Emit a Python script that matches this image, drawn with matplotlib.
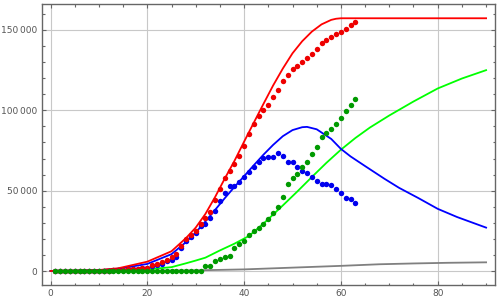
import numpy as np
import matplotlib
matplotlib.use("Agg")
import matplotlib.pyplot as plt
from matplotlib.ticker import MultipleLocator

# ---- observed data (one dot per day) ----
days = list(range(1, 64))

confirmed = [20, 20, 20, 20, 30, 50, 50, 80, 130, 160,
             200, 260, 480, 670, 800, 1000, 1200, 1500, 1900, 2100,
             3500, 4400, 5600, 7000, 8500, 10500, 15500, 19700, 22300, 24900,
             29100, 32800, 36800, 43900, 50900, 57700, 62500, 66600, 71800, 78000,
             85100, 91300, 96300, 100000, 103300, 108000, 112900, 118300, 122000, 125600,
             127800, 129900, 132400, 135300, 138000, 141700, 143600, 145900, 147300, 148600,
             150500, 153000, 154800]

active = [0, 0, 0, 0, 10, 30, 30, 60, 110, 140,
          180, 240, 460, 650, 780, 980, 1180, 1480, 1880, 2080,
          3000, 3800, 4600, 6000, 7000, 9000, 14500, 18500, 21000, 23800,
          28000, 29500, 33000, 37600, 43800, 48800, 52700, 52700, 55100, 58200,
          61500, 64900, 68100, 70300, 70800, 71200, 73300, 71800, 68100, 68100,
          64600, 62500, 60800, 58300, 56200, 54000, 54000, 53400, 50900, 48400,
          45700, 44600, 42100]

recovered = [20, 20, 20, 20, 20, 20, 20, 20, 20, 20,
             20, 20, 20, 20, 20, 20, 20, 20, 20, 20,
             50, 50, 50, 50, 100, 100, 100, 200, 200, 300,
             300, 3300, 3300, 6000, 7500, 8900, 9500, 14100, 16800, 18700,
             22400, 24900, 26600, 29300, 32200, 35900, 40000, 46300, 54000, 57700,
             60400, 64600, 68100, 72700, 77000, 83200, 85700, 88200, 91300, 95100,
             99400, 103200, 106900]

# ---- model curves ----
red_x = [0, 5, 10, 14, 20, 25, 28, 30, 32, 34, 36, 38, 40, 42, 44, 46, 48,
         50, 52, 54, 56, 58, 59, 60, 90]
red_y = [0, 150, 600, 1700, 5800, 12300, 20500, 27000, 35500, 46000, 57500, 68500,
         80500, 92300, 104000, 115500, 126000, 135500, 143000, 149000, 153500,
         156300, 157000, 157300, 157300]

blue_x = [0, 5, 10, 14, 20, 25, 28, 30, 32, 34, 36, 38, 40, 42, 44, 46, 48, 50,
          52, 53, 55, 58, 60, 62, 65, 69, 72, 76, 80, 84, 90]
blue_y = [0, 120, 500, 1400, 4400, 10500, 18000, 24000, 30800, 38000, 45300, 52300,
          59000, 65800, 72400, 78500, 83900, 87700, 89500, 89700, 88200, 82200, 76000,
          71300, 65300, 57400, 51800, 45400, 38700, 33600, 27000]

green_x = [0, 10, 20, 25, 28, 30, 32, 35, 38, 41, 44, 48, 51, 54, 57, 60, 63,
           66, 70, 75, 80, 85, 90]
green_y = [0, 200, 1000, 2400, 4800, 6500, 8300, 12800, 17000, 21800, 29500, 40800,
           49500, 58500, 67300, 75500, 82800, 89300, 96800, 105500, 113600, 119800,
           125000]

gray_x = [0, 20, 30, 40, 50, 60, 68, 75, 82, 90]
gray_y = [0, 100, 400, 1000, 2100, 3200, 4200, 4700, 5100, 5400]

x_ticks = [0, 20, 40, 60, 80]
y_ticks = [0, 50000, 100000, 150000]
y_tick_labels = ["0", "50\u2009000", "100\u2009000", "150\u2009000"]

fig = plt.figure(figsize=(5.0, 3.02), dpi=100)
ax = fig.add_axes([0.0834, 0.0563, 0.9066, 0.9295])

ax.plot(gray_x, gray_y, color="#808080", lw=1.3, zorder=2)
ax.plot(green_x, green_y, color="#00ff00", lw=1.3, zorder=2)
ax.plot(blue_x, blue_y, color="#0000ff", lw=1.3, zorder=2)
ax.plot(red_x, red_y, color="#ff0000", lw=1.3, zorder=2)

ax.plot(days, active, "o", color="#0000ee", ms=3.9, mec="none", zorder=3)
ax.plot(days, confirmed, "o", color="#ee0000", ms=3.9, mec="none", zorder=4)
ax.plot(days, recovered, "o", color="#009a00", ms=3.9, mec="none", zorder=5)

ax.set_xlim(-1.82, 91.84)
ax.set_ylim(-8710, 166000)

ax.set_xticks(x_ticks)
ax.set_yticks(y_ticks)
ax.set_yticklabels(y_tick_labels)
ax.xaxis.set_minor_locator(MultipleLocator(5))
ax.yaxis.set_minor_locator(MultipleLocator(10000))

frame = "#666666"
for s in ax.spines.values():
    s.set_color(frame)
    s.set_linewidth(1.0)
ax.tick_params(which="both", direction="in", top=True, right=True,
               color=frame, width=0.8, labelsize=6.5, labelcolor="#555555")
ax.tick_params(which="major", length=3.2, pad=3)
ax.tick_params(which="minor", length=1.8)

ax.grid(True, which="major", color="#c8c8c8", lw=0.8, zorder=0)
ax.set_axisbelow(True)

fig.savefig("out.png", dpi=100)
